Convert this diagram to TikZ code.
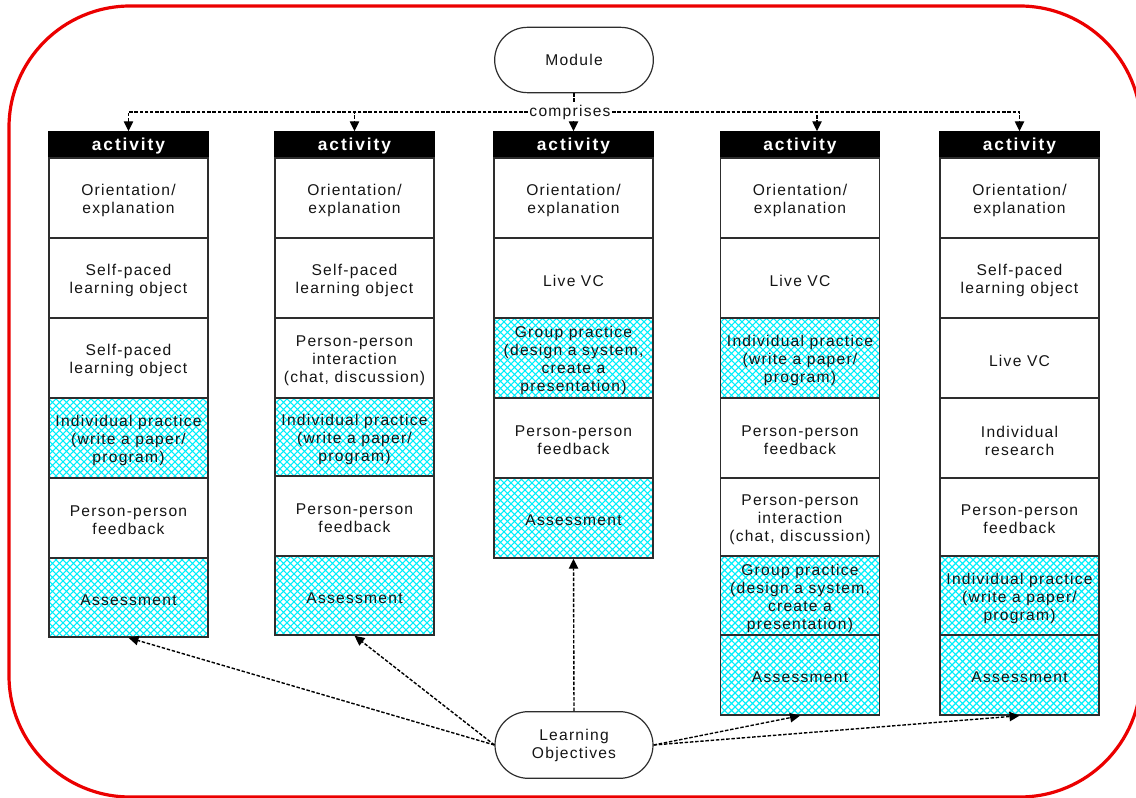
\documentclass[tikz,border=0pt]{standalone}
\usepackage{fontspec}
\setmainfont{Liberation Sans}[LetterSpace=8]
\newfontfamily\headfont{Liberation Sans}[LetterSpace=11]
\usetikzlibrary{shapes.misc,arrows.meta,patterns}

\definecolor{edge}{RGB}{45,45,45}
\definecolor{hatch}{RGB}{0,238,250}
\definecolor{frame}{RGB}{235,0,0}

% cyan cross-hatch used for practice and assessment cells
\pgfdeclarepatternformonly{xhatch}{\pgfqpoint{-0.5pt}{-0.5pt}}{\pgfqpoint{5.75pt}{5.75pt}}{\pgfqpoint{5.25pt}{5.25pt}}{%
  \pgfsetlinewidth{0.8pt}%
  \pgfpathmoveto{\pgfqpoint{-0.5pt}{-0.5pt}}\pgfpathlineto{\pgfqpoint{5.75pt}{5.75pt}}%
  \pgfpathmoveto{\pgfqpoint{-0.5pt}{5.75pt}}\pgfpathlineto{\pgfqpoint{5.75pt}{-0.5pt}}%
  \pgfusepath{stroke}}

% cell: style, name, x centre, top, bottom, text (set a little below centre)
\newcommand\blk[6]{\node[#1, minimum height={(#5-#4)*0.75pt}, label={[lbl, #1 text]center:{#6}}] (#2) at (#3,{(#4+#5)/2}) {};}

\begin{document}
\begin{tikzpicture}[x=0.75pt,y=-0.75pt,
  every node/.style={font=\fontsize{11.7pt}{13.5pt}\selectfont, text={rgb,255:red,20;green,20;blue,20}},
  lbl/.style={align=center, inner sep=0pt, yshift=-2pt},
  cell/.style={draw=edge, line width=1.1pt, minimum width=119.25pt, inner sep=0pt, align=center},
  hatched/.style={cell, pattern=xhatch, pattern color=hatch},
  head/.style={cell, draw=black, fill=black},
  cell text/.style={},
  hatched text/.style={},
  head text/.style={text=white, font=\headfont\fontsize{13pt}{13pt}\selectfont\bfseries, yshift=1.5pt},
  pill/.style={draw=edge, rounded rectangle, line width=0.9pt, minimum width=119pt, align=center, inner sep=0pt},
  dline/.style={line width=1.05pt, dash pattern=on 2.6pt off 1.3pt, black},
  conn/.style={dline, -{Triangle[length=7.5pt,width=7pt]}}]

\useasboundingbox (0,0) rectangle (1136,798);

% outer frame
\draw[frame, line width=2.4pt, rounded corners=91pt] (9,6) rectangle (1141,797);

% module and objectives
\node[pill, minimum height=49pt] (mod) at (574,60) {Module};
\node[pill, minimum height=50pt, minimum width=118.5pt] (lo) at (574,745) {Learning\\Objectives};

% column 1
\blk{head}{h1}{128.5}{132}{158}{activity}
\blk{cell}{a1}{128.5}{158}{238}{Orientation/\\explanation}
\blk{cell}{a2}{128.5}{238}{318}{Self-paced\\learning object}
\blk{cell}{a3}{128.5}{318}{398}{Self-paced\\learning object}
\blk{hatched}{a4}{128.5}{398}{478}{Individual practice\\(write a paper/\\program)}
\blk{cell}{a5}{128.5}{478}{558}{Person-person\\feedback}
\blk{hatched}{a6}{128.5}{558}{637}{Assessment}

% column 2
\blk{head}{h2}{354.5}{132}{158}{activity}
\blk{cell}{b1}{354.5}{158}{238}{Orientation/\\explanation}
\blk{cell}{b2}{354.5}{238}{318}{Self-paced\\learning object}
\blk{cell}{b3}{354.5}{318}{398}{Person-person\\interaction\\(chat, discussion)}
\blk{hatched}{b4}{354.5}{398}{476}{Individual practice\\(write a paper/\\program)}
\blk{cell}{b5}{354.5}{476}{556}{Person-person\\feedback}
\blk{hatched}{b6}{354.5}{556}{635}{Assessment}

% column 3
\blk{head}{h3}{573.5}{132}{158}{activity}
\blk{cell}{c1}{573.5}{158}{238}{Orientation/\\explanation}
\blk{cell}{c2}{573.5}{238}{318}{Live VC}
\blk{hatched}{c3}{573.5}{318}{398}{Group practice\\(design a system,\\create a\\presentation)}
\blk{cell}{c4}{573.5}{398}{478}{Person-person\\feedback}
\blk{hatched}{c5}{573.5}{478}{558}{Assessment}

% column 4
\blk{head}{h4}{800}{132}{158}{activity}
\blk{cell}{d1}{800}{158}{238}{Orientation/\\explanation}
\blk{cell}{d2}{800}{238}{318}{Live VC}
\blk{hatched}{d3}{800}{318}{398}{Individual practice\\(write a paper/\\program)}
\blk{cell}{d4}{800}{398}{478}{Person-person\\feedback}
\blk{cell}{d5}{800}{478}{556}{Person-person\\interaction\\(chat, discussion)}
\blk{hatched}{d6}{800}{556}{635}{Group practice\\(design a system,\\create a\\presentation)}
\blk{hatched}{d7}{800}{635}{715}{Assessment}

% column 5
\blk{head}{h5}{1019.5}{132}{158}{activity}
\blk{cell}{e1}{1019.5}{158}{238}{Orientation/\\explanation}
\blk{cell}{e2}{1019.5}{238}{318}{Self-paced\\learning object}
\blk{cell}{e3}{1019.5}{318}{398}{Live VC}
\blk{cell}{e4}{1019.5}{398}{478}{Individual\\research}
\blk{cell}{e5}{1019.5}{478}{556}{Person-person\\feedback}
\blk{hatched}{e6}{1019.5}{556}{635}{Individual practice\\(write a paper/\\program)}
\blk{hatched}{e7}{1019.5}{635}{715}{Assessment}

% "comprises" relation
\node[fill=white, inner sep=1pt] (comp) at (570,112) {comprises};
\draw[dline] (mod.south) -- (mod.south |- comp.north);
\draw[conn] (comp.west) -| (h1.north);
\draw[conn] (comp.west) -| (h2.north);
\draw[conn] (comp.south -| h3.north) -- (h3.north);
\draw[conn] (comp.east) -| ([xshift=12.75pt]h4.north);
\draw[conn] (comp.east) -| (h5.north);

% objectives map to assessments
\draw[conn] (lo.west) -- (a6.south);
\draw[conn] (lo.west) -- (b6.south);
\draw[conn] (lo.north) -- (c5.south);
\draw[conn] (lo.east) -- (d7.south);
\draw[conn] (lo.east) -- (e7.south);
\end{tikzpicture}
\end{document}
